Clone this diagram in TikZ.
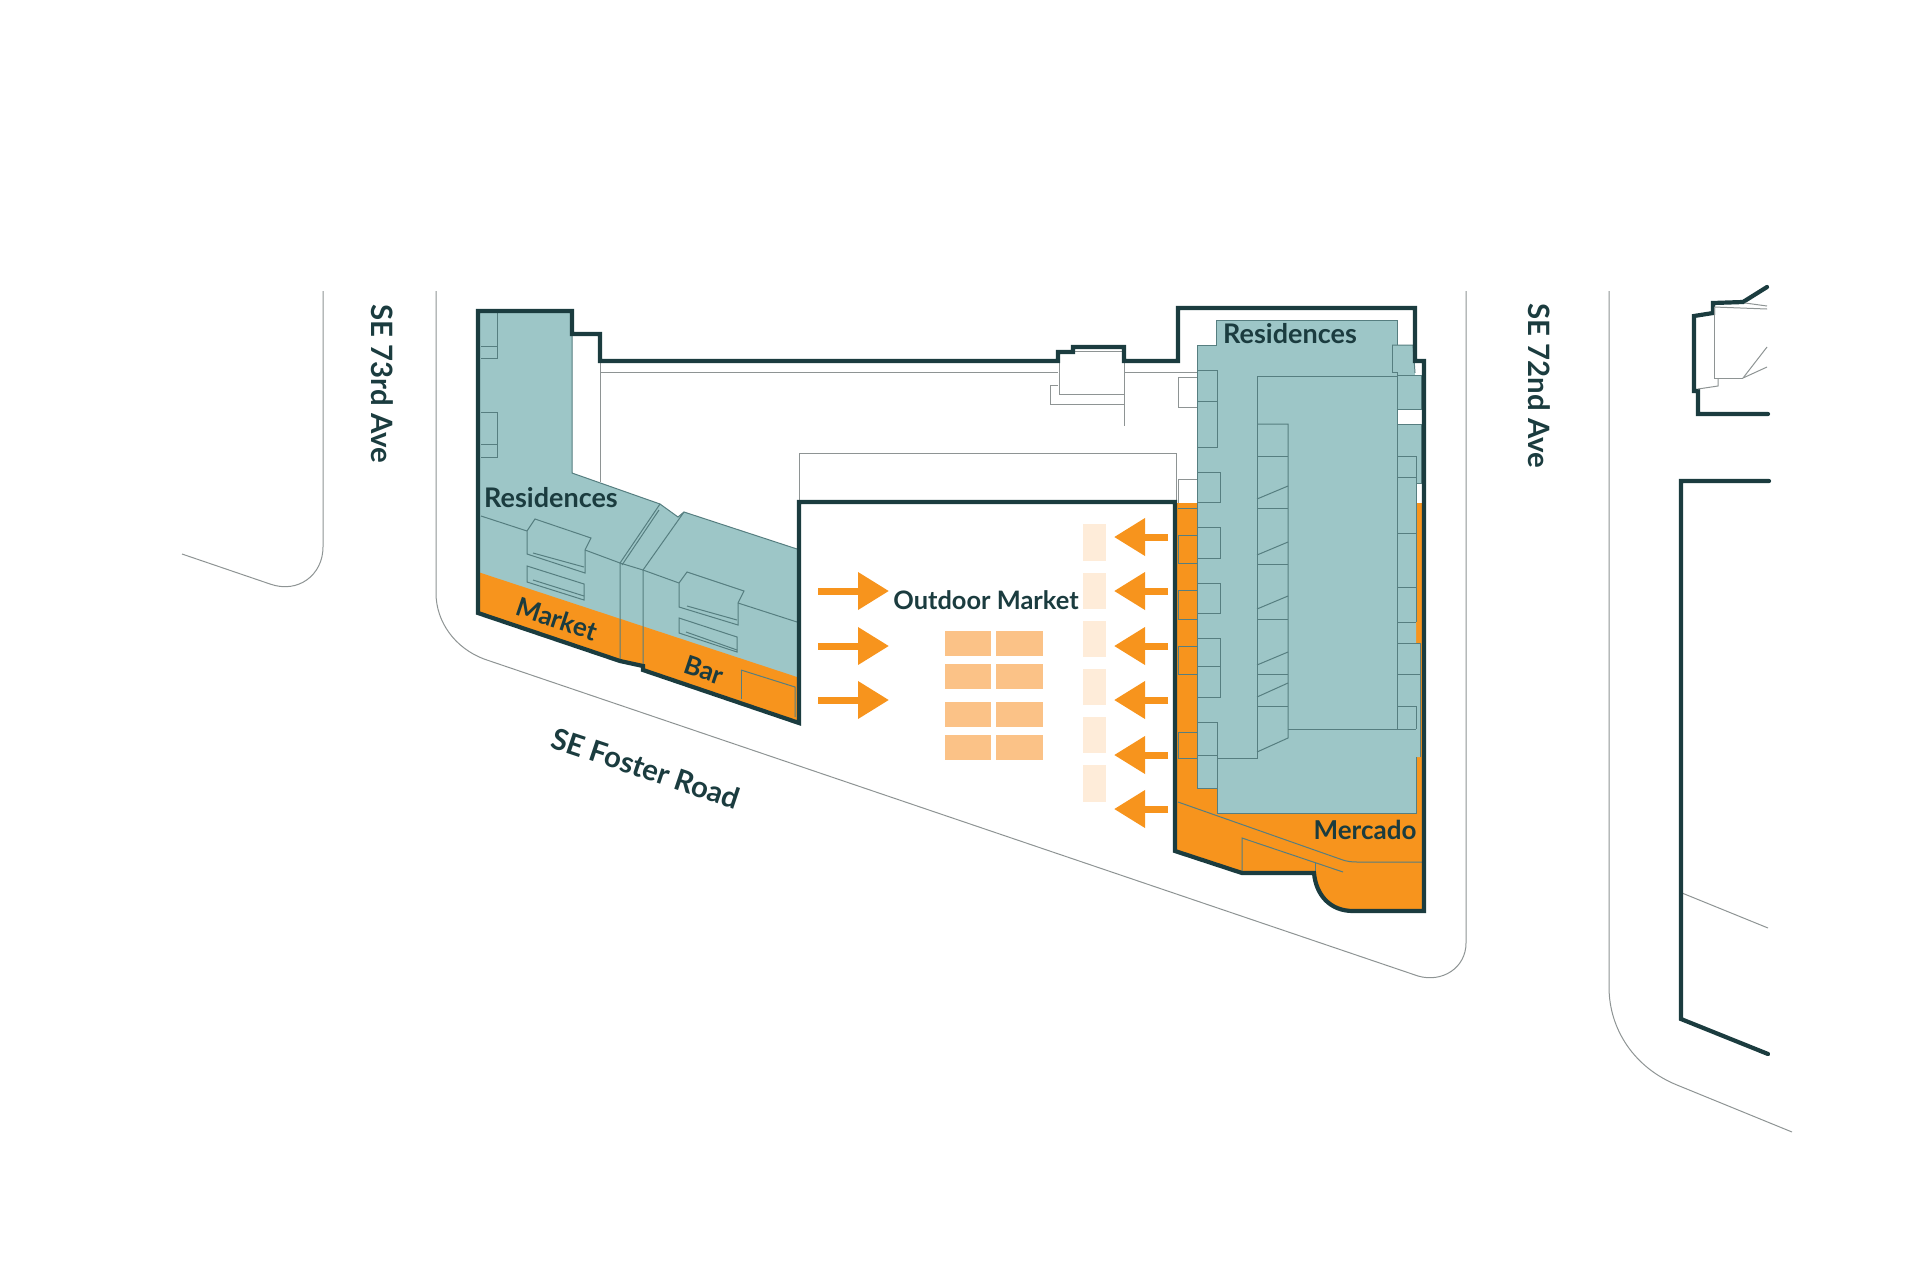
\documentclass[tikz,border=0pt]{standalone}
\usepackage{fontspec}
\setmainfont{Lato}
\usetikzlibrary{arrows.meta}
\definecolor{outlinec}{HTML}{1B3C3F}
\definecolor{tealc}{HTML}{9DC6C7}
\definecolor{inkc}{HTML}{567E80}
\definecolor{orangec}{HTML}{F7941D}
\definecolor{stallc}{HTML}{FBC287}
\definecolor{paler}{HTML}{FEECD9}
\definecolor{roadc}{HTML}{8E9494}
\tikzset{
	wall/.style={draw=outlinec,line width=2.1pt,line join=miter},
	road/.style={draw=roadc,line width=0.5pt},
	fold/.style={draw=inkc,line width=0.5pt},
	lbl/.style={text=outlinec,font=\fontsize{13}{15}\selectfont\bfseries,inner sep=0pt},
	roadlbl/.style={text=outlinec,font=\fontsize{14.7}{17}\selectfont\bfseries,inner sep=0pt},
	flow/.style={draw=orangec,line width=3.5pt,-{Triangle[length=15.5pt,width=18pt]}},
	stall/.style={fill=stallc},
	stand/.style={fill=paler}
}
\begin{document}
\begin{tikzpicture}[x=0.5pt,y=-0.5pt]
	\useasboundingbox (0,0) rectangle (1920,1280);
	% streets
	\draw[road] (323,291) -- (323,547) .. controls (323,575) and (298,594) .. (270,584) -- (182,554);
	\draw[road] (436,291) -- (436,593) .. controls (436,622) and (455,648) .. (484,659) -- (1418,976) .. controls (1442,983) and (1466,968) .. (1466,943) -- (1466,291);
	\draw[road] (1609,291) -- (1609,987) .. controls (1609,1030) and (1635,1068) .. (1677,1085) -- (1792,1132);
	\draw[road] (1682,893) -- (1768,928);
	% thin lines behind the buildings
	\draw[road] (600,361) -- (600,482);
	\draw[road] (600,372) -- (1058,372);
	\draw[road] (1124,372) -- (1197,372);
	\draw[road] (799,502) -- (799,453) -- (1176,453) -- (1176,502);
	\draw[road] (1059,362) -- (1059,394) -- (1124,394);
	\draw[road] (1124,362) -- (1124,426);
	\draw[road] (1058,385) -- (1050,385) -- (1050,404) -- (1124,404);
	\draw[road] (1075,351) -- (1122,351);
	\draw[road] (1197,377) -- (1178,377) -- (1178,407) -- (1197,407);
	\draw[road] (1197,479) -- (1178,479) -- (1178,503);
	% left building
	\fill[tealc] (478,311) -- (572,311) -- (572,473) -- (660,504) -- (678,517) -- (684,512) -- (797,549) -- (797,680) -- (478,575) -- cycle;
	\fill[orangec] (478,572) -- (797,677) -- (797,723) -- (643,670) -- (643,666) -- (620,661) -- (478,613) -- cycle;
	\draw[fold] (572,334) -- (572,473) -- (660,504) -- (678,517) -- (684,512) -- (797,549);
	\draw[fold] (481,312) -- (497,312) -- (497,358) -- (481,358);
	\draw[fold] (481,346) -- (497,346);
	\draw[fold] (481,412) -- (497,412) -- (497,457) -- (481,457);
	\draw[fold] (481,444) -- (497,444);
	\draw[fold] (481,516) -- (527,531);
	\draw[fold] (527,531) -- (535,519) -- (591,538) -- (585,550) -- (585,573) -- (527,554) -- cycle;
	\draw[fold] (533,553) -- (584,567);
	\draw[fold] (585,550) -- (620,563) -- (620,662);
	\draw[fold] (527,566) -- (584,584) -- (584,600) -- (527,582) -- cycle;
	\draw[fold] (533,580) -- (584,596);
	\draw[fold] (620,563) -- (660,504);
	\draw[fold] (622,565) -- (659,510);
	\draw[fold] (620,563) -- (643,570) -- (643,667);
	\draw[fold] (643,570) -- (684,512);
	\draw[fold] (643,570) -- (679,583);
	\draw[fold] (679,583) -- (687,572) -- (744,591) -- (738,603) -- (738,625) -- (679,607) -- cycle;
	\draw[fold] (687,606) -- (737,620);
	\draw[fold] (738,603) -- (797,622);
	\draw[fold] (679,618) -- (737,637) -- (737,652) -- (679,633) -- cycle;
	\draw[fold] (686,632) -- (737,650);
	\draw[fold] (741,670) -- (795,687) -- (795,717);
	\draw[fold] (741,670) -- (741,699);
	% right building
	\fill[orangec] (1175,503) -- (1424,503) -- (1424,911) -- (1353,911) .. controls (1330,911) and (1316,895) .. (1314,873) -- (1242,873) -- (1175,851) -- cycle;
	\fill[tealc] (1216,320) -- (1397,320) -- (1397,345) -- (1413,345) -- (1415,375) -- (1421,375) -- (1421,409) -- (1397,409) -- (1397,424) -- (1421,424) -- (1421,483) -- (1416,483) -- (1416,643) -- (1420,643) -- (1420,757) -- (1416,757) -- (1416,813) -- (1217,813) -- (1217,788) -- (1197,788) -- (1197,345) -- (1216,345) -- cycle;
	\draw[fold] (1197,345) -- (1216,345) -- (1216,320) -- (1397,320) -- (1397,345);
	\draw[fold] (1197,345) -- (1197,788) -- (1217,788) -- (1217,813) -- (1416,813) -- (1416,757);
	\draw[fold] (1392,345) -- (1413,345) -- (1415,373);
	\draw[fold] (1392,345) -- (1392,372) -- (1397,372) -- (1397,729);
	\draw[fold] (1257,376) -- (1397,376);
	\draw[fold] (1257,376) -- (1257,758) -- (1217,758);
	\draw[fold] (1257,752) -- (1288,738) -- (1288,424) -- (1257,424);
	\draw[fold] (1288,729) -- (1416,729);
	\draw[fold] (1257,456) -- (1288,456);
	\draw[fold] (1257,499) -- (1288,486);
	\draw[fold] (1257,508) -- (1288,508);
	\draw[fold] (1257,555) -- (1288,542);
	\draw[fold] (1257,564) -- (1288,564);
	\draw[fold] (1257,609) -- (1288,596);
	\draw[fold] (1257,619) -- (1288,619);
	\draw[fold] (1257,665) -- (1288,652);
	\draw[fold] (1257,674) -- (1288,674);
	\draw[fold] (1257,697) -- (1288,683);
	\draw[fold] (1257,706) -- (1288,706);
	% bays on the left side
	\draw[fold] (1197,370) -- (1217,370) -- (1217,447) -- (1197,447);
	\draw[fold] (1197,401) -- (1217,401);
	\draw[fold] (1197,472) -- (1220,472) -- (1220,502) -- (1197,502);
	\draw[fold] (1197,527) -- (1220,527) -- (1220,558) -- (1197,558);
	\draw[fold] (1197,583) -- (1220,583) -- (1220,613) -- (1197,613);
	\draw[fold] (1197,638) -- (1220,638) -- (1220,697) -- (1197,697);
	\draw[fold] (1197,666) -- (1220,666);
	\draw[fold] (1197,722) -- (1217,722) -- (1217,788);
	\draw[fold] (1197,755) -- (1217,755);
	\draw[fold] (1197,508) -- (1178,508);
	\draw[fold] (1197,535) -- (1178,535) -- (1178,563) -- (1197,563);
	\draw[fold] (1197,590) -- (1178,590) -- (1178,619) -- (1197,619);
	\draw[fold] (1197,646) -- (1178,646) -- (1178,674) -- (1197,674);
	\draw[fold] (1197,732) -- (1178,732) -- (1178,758) -- (1197,758);
	% bays on the right side
	\draw[fold] (1397,375) -- (1421,375) -- (1421,409) -- (1397,409);
	\draw[fold] (1397,424) -- (1421,424) -- (1421,483) -- (1416,483);
	\draw[fold] (1397,456) -- (1416,456) -- (1416,622);
	\draw[fold] (1397,477) -- (1416,477);
	\draw[fold] (1397,533) -- (1416,533);
	\draw[fold] (1397,587) -- (1416,587);
	\draw[fold] (1397,622) -- (1416,622);
	\draw[fold] (1397,643) -- (1420,643) -- (1420,757);
	\draw[fold] (1397,674) -- (1420,674);
	\draw[fold] (1397,706) -- (1416,706) -- (1416,729);
	% mercado lines
	\draw[fold] (1178,802) -- (1340,859) .. controls (1348,862) and (1352,862) .. (1360,862) -- (1422,862);
	\draw[fold] (1242,872) -- (1242,838) -- (1343,872);
	\draw[fold] (1315,863) -- (1315,873);
	% walls
	\draw[wall] (478,311) -- (572,311) -- (572,334) -- (600,334) -- (600,361) -- (1058,361) -- (1058,352) -- (1073,352) -- (1073,347) -- (1124,347) -- (1124,361) -- (1178,361) -- (1178,308) -- (1415,308) -- (1415,361) -- (1424,361) -- (1424,911) -- (1353,911) .. controls (1330,911) and (1316,895) .. (1314,873) -- (1242,873) -- (1175,851) -- (1175,502) -- (799,502) -- (799,723) -- (643,670) -- (643,666) -- (620,661) -- (478,613) -- cycle;
	% neighbouring buildings
	\draw[wall,line cap=round] (1767,287) -- (1743,302) -- (1713,303) -- (1713,313) -- (1694,316) -- (1694,391) -- (1698,391) -- (1698,414) -- (1768,414);
	\draw[wall,line cap=round] (1769,481) -- (1681,481) -- (1681,1019) -- (1768,1054);
	\draw[road] (1745,303) -- (1767,306);
	\draw[road] (1714,307) -- (1767,309);
	\draw[road] (1714,307) -- (1714,378) -- (1743,378);
	\draw[road] (1718,378) -- (1718,386) -- (1698,389);
	\draw[road] (1743,378) -- (1767,347);
	\draw[road] (1743,378) -- (1767,367);
	% stalls
	\fill[stall] (945,631) rectangle (991,656);
	\fill[stall] (996,631) rectangle (1043,656);
	\fill[stall] (945,664) rectangle (991,689);
	\fill[stall] (996,664) rectangle (1043,689);
	\fill[stall] (945,702) rectangle (991,727);
	\fill[stall] (996,702) rectangle (1043,727);
	\fill[stall] (945,735) rectangle (991,760);
	\fill[stall] (996,735) rectangle (1043,760);
	\fill[stand] (1083,524) rectangle (1106,561);
	\fill[stand] (1083,573) rectangle (1106,609);
	\fill[stand] (1083,621) rectangle (1106,657);
	\fill[stand] (1083,669) rectangle (1106,705);
	\fill[stand] (1083,717) rectangle (1106,753);
	\fill[stand] (1083,765) rectangle (1106,802);
	% arrows
	\coordinate (w1)at(818,591);
	\coordinate (w2)at(818,646);
	\coordinate (w3)at(818,700);
	\coordinate (m1)at(889,591);
	\coordinate (m2)at(889,646);
	\coordinate (m3)at(889,700);
	\draw[flow] (w1) -- (m1);
	\draw[flow] (w2) -- (m2);
	\draw[flow] (w3) -- (m3);
	\coordinate (e1)at(1168,537);
	\coordinate (e2)at(1168,591);
	\coordinate (e3)at(1168,646);
	\coordinate (e4)at(1168,700);
	\coordinate (e5)at(1168,755);
	\coordinate (e6)at(1168,809);
	\coordinate (n1)at(1114,537);
	\coordinate (n2)at(1114,591);
	\coordinate (n3)at(1114,646);
	\coordinate (n4)at(1114,700);
	\coordinate (n5)at(1114,755);
	\coordinate (n6)at(1114,809);
	\draw[flow] (e1) -- (n1);
	\draw[flow] (e2) -- (n2);
	\draw[flow] (e3) -- (n3);
	\draw[flow] (e4) -- (n4);
	\draw[flow] (e5) -- (n5);
	\draw[flow] (e6) -- (n6);
	% labels
	\node[lbl,font=\fontsize{13.5}{15}\selectfont\bfseries] (res1)at(551,498) {Residences};
	\node[lbl,rotate=-18.5] (market)at(557,619) {Market};
	\node[lbl,rotate=-18.5] (bar)at(704,670) {Bar};
	\node[lbl,font=\fontsize{13.5}{15}\selectfont\bfseries] (res2)at(1290,334) {Residences};
	\node[lbl] (mercado)at(1365,830) {Mercado};
	\node[lbl,font=\fontsize{12.7}{15}\selectfont\bfseries] (outdoor)at(986,600) {Outdoor Market};
	\node[roadlbl,rotate=-90] (ave73)at(382,384) {SE 73rd Ave};
	\node[roadlbl,rotate=-90] (ave72)at(1539,386) {SE 72nd Ave};
	\node[roadlbl,rotate=-18.5] (foster)at(646,768) {SE Foster Road};
\end{tikzpicture}
\end{document}
